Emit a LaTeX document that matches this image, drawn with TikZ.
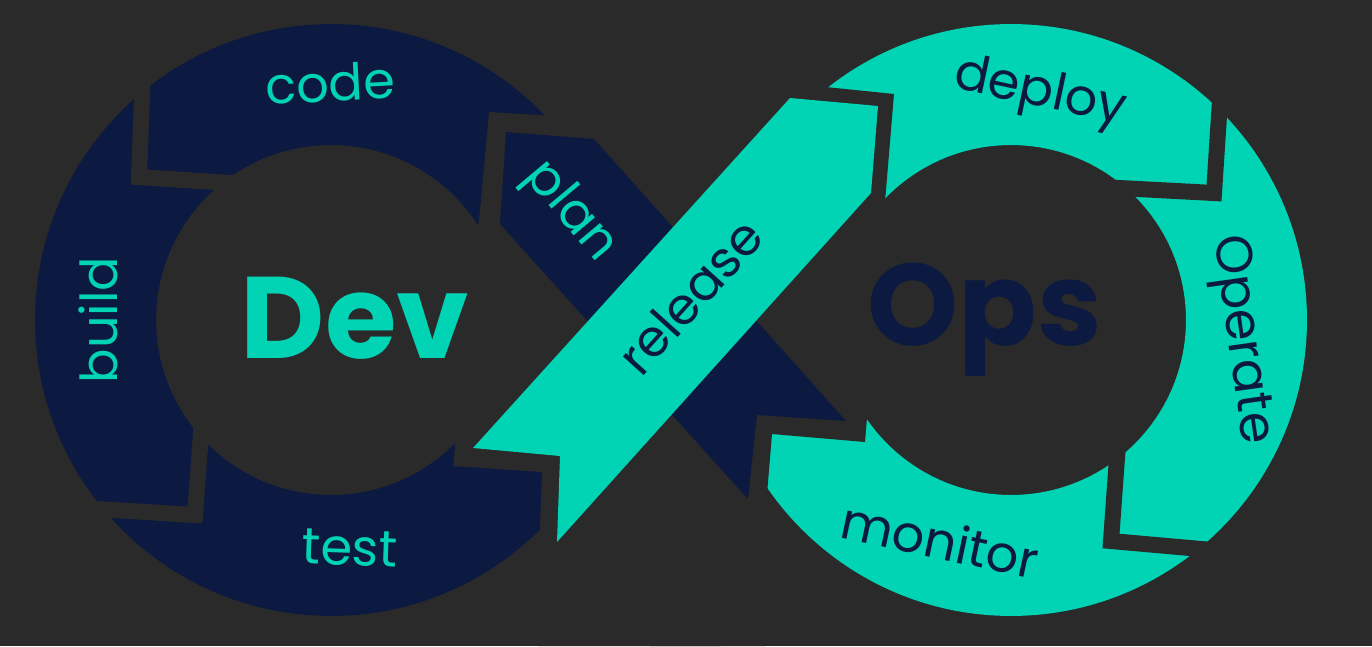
\documentclass[tikz,border=0pt]{standalone}
\usepackage{fontspec}
\setmainfont{Poppins}
\definecolor{bg}{HTML}{2A2A2A}
\definecolor{navy}{HTML}{0C1940}
\definecolor{teal}{HTML}{00D4B4}
\tikzset{
  ring/.style={even odd rule},
  gap/.style={draw=bg, line width=0.32cm, line join=miter},
  stage/.style={font=\fontsize{29}{30}\selectfont, inner sep=0pt},
  title/.style={font=\fontsize{66}{66}\selectfont\bfseries, inner sep=0pt}
}
\begin{document}
\begin{tikzpicture}[x=0.02cm,y=-0.02cm]
  \fill [bg] (0,0) rectangle (1372,646);
  \useasboundingbox (0,0) rectangle (1372,646);
  \begin{scope}
  \clip (0,0) rectangle (1372,646);
  % left ring
  \fill [navy, ring] (331,320) circle (5.92cm) (331,320) circle (3.5cm);
  \fill [bg] (481,200) -- (489,112) -- (720,126) -- (720,646) -- (538,646)
    -- (539,555) -- (542,472) -- (453,466) -- cycle;
  \draw [gap] (143,70) -- (139,177) -- (245,184);
  \draw [gap] (202,420) -- (195,515) -- (80,508);
  % right ring
  \fill [teal, ring] (1011,320) circle (5.92cm) (1011,320) circle (3.5cm);
  \fill [bg] (887,178) -- (894,94) -- (650,69) -- (650,646) -- (765,646)
    -- (765,518) -- (772,434) -- (865,442) -- cycle;
  \draw [gap] (1221,85) -- (1214,193) -- (1100,187);
  \draw [gap] (1119,430) -- (1111,541) -- (1235,552);
  \end{scope}
  % crossing bands
  \fill [navy] (506,132) -- (594,139) -- (846,421) -- (757,415) -- (748,499)
    -- (500,224) -- cycle;
  \fill [teal] (473,448) -- (790,98) -- (878,106) -- (871,193) -- (557,542)
    -- (560,456) -- cycle;
  % labels
  \node [stage, text=teal, rotate=3] (code) at (330,83) {code};
  \node [stage, text=teal, rotate=90] (build) at (98,320) {build};
  \node [stage, text=teal, rotate=-2] (test) at (350,548) {test};
  \node [stage, text=teal, rotate=-50] (plan) at (570,212) {plan};
  \node [stage, text=navy, rotate=48] (release) at (690,296) {release};
  \node [stage, text=navy, rotate=-12] (deploy) at (1040,94) {deploy};
  \node [stage, text=navy, rotate=-82] (operate) at (1240,340) {Operate};
  \node [stage, text=navy, rotate=-12] (monitor) at (940,540) {monitor};
  \node [title, text=teal] (dev) at (355,318) {Dev};
  \node [title, text=navy] (ops) at (985,320) {Ops};
\end{tikzpicture}
\end{document}
